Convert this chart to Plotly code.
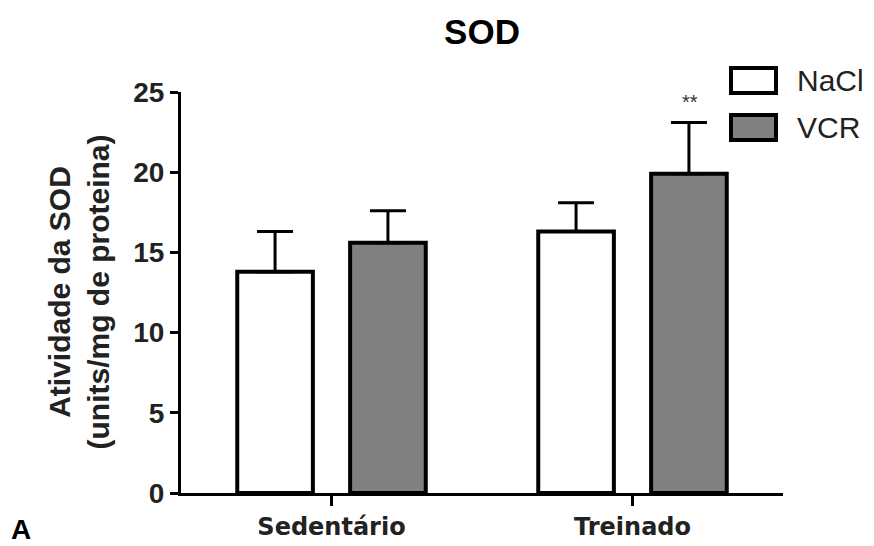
import plotly.graph_objects as go

categories = ["Sedentário", "Treinado"]
nacl_mean = [13.8, 16.3]
nacl_err = [2.5, 1.8]
vcr_mean = [15.6, 19.9]
vcr_err = [2.0, 3.2]
series_names = ["NaCl", "VCR"]
y_ticks = [0, 5, 10, 15, 20, 25]

W, H = 874, 546
L, R, T, B = 181, 91, 92, 53
pw, ph = W - L - R, H - T - B

def px_x(p):
    return (p - L) / pw

def px_y(p):
    return (H - B - p) / ph

fig = go.Figure()
fig.add_trace(go.Bar(
    x=categories, y=nacl_mean, name=series_names[0],
    marker=dict(color="white", line=dict(color="black", width=4)),
    error_y=dict(type="data", symmetric=False, array=nacl_err, arrayminus=[0, 0],
                 color="black", thickness=3, width=18),
))
fig.add_trace(go.Bar(
    x=categories, y=vcr_mean, name=series_names[1],
    marker=dict(color="#808080", line=dict(color="black", width=4)),
    error_y=dict(type="data", symmetric=False, array=vcr_err, arrayminus=[0, 0],
                 color="black", thickness=3, width=18),
))

font_main = "Liberation Sans, Arial, sans-serif"

fig.update_layout(
    width=W, height=H,
    margin=dict(l=L, r=R, t=T, b=B, autoexpand=False),
    paper_bgcolor="white", plot_bgcolor="white",
    barmode="group", bargap=0.25, bargroupgap=0.33,
    showlegend=False,
    title=dict(text="<b>SOD</b>", x=482 / W, xref="container", xanchor="center",
               y=1 - 32 / H, yref="container", yanchor="middle",
               font=dict(family=font_main, size=35, color="black")),
    xaxis=dict(type="category", range=[-0.5, 1.5], showline=True, linecolor="black",
               linewidth=3, ticks="outside", ticklen=10, tickwidth=3, tickcolor="black",
               showgrid=False, zeroline=False, automargin=False,
               tickfont=dict(family="DejaVu Sans, sans-serif", size=24, color="#222",
                             weight="bold")),
    yaxis=dict(range=[0, 25], tickvals=y_ticks, showline=True, linecolor="black",
               linewidth=3, ticks="outside", ticklen=8, tickwidth=3, tickcolor="black",
               showgrid=False, zeroline=False, automargin=False,
               tickfont=dict(family=font_main, size=28, color="#222", weight="bold")),
)

# manual legend
shapes = []
annots = []
legend_rows = [(series_names[0], "white", 68, 93), (series_names[1], "#808080", 115, 140)]
for name, col, y0p, y1p in legend_rows:
    shapes.append(dict(type="rect", xref="paper", yref="paper",
                       x0=px_x(731), x1=px_x(776), y0=px_y(y1p), y1=px_y(y0p),
                       fillcolor=col, line=dict(color="black", width=4)))
    annots.append(dict(text=name, xref="paper", yref="paper", x=px_x(795),
                       y=px_y((y0p + y1p) / 2), xanchor="left", yanchor="middle",
                       showarrow=False, font=dict(family=font_main, size=30, color="#222")))

annots.append(dict(text="**", xref="x", yref="y", x=categories[1], xshift=57,
                   y=24.4, showarrow=False, yanchor="middle",
                   font=dict(family=font_main, size=20, color="#333")))
annots.append(dict(text="<b>Atividade da SOD<br>(units/mg de proteina)</b>", xref="paper",
                   yref="paper", x=px_x(78), y=0.5, textangle=-90, xanchor="center",
                   yanchor="middle", showarrow=False,
                   font=dict(family=font_main, size=30, color="#222")))
annots.append(dict(text="<b>A</b>", xref="paper", yref="paper", x=px_x(21), y=px_y(529),
                   xanchor="center", yanchor="middle", showarrow=False,
                   font=dict(family=font_main, size=28, color="black")))

fig.update_layout(shapes=shapes, annotations=annots)
fig.write_html("out.html")
